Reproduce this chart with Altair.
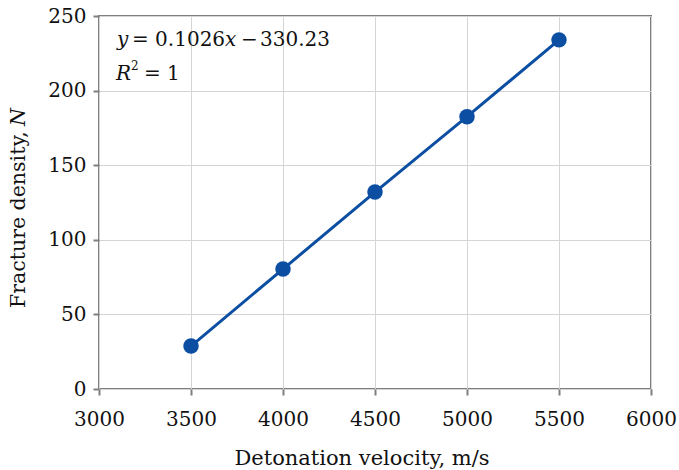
import altair as alt
import pandas as pd

velocity = [3500, 4000, 4500, 5000, 5500]
density = [28.8, 80.4, 132.0, 182.5, 234.0]
x_ticks = [3000, 3500, 4000, 4500, 5000, 5500, 6000]
y_ticks = [0, 50, 100, 150, 200, 250]

FONT = "DejaVu Serif"
BLUE = "#0B4EA2"
GRAY = "#7f7f7f"

df = pd.DataFrame({"v": velocity, "n": density})

x_enc = alt.X("v:Q", scale=alt.Scale(domain=[3000, 6000], nice=False),
              axis=alt.Axis(values=x_ticks, title=None, format="d", grid=True,
                            gridColor="#d4d4d4", domain=False, tickColor=GRAY,
                            tickWidth=2, tickSize=6, labelPadding=14, labelFlush=False,
                            labelFont=FONT, labelFontSize=20, labelColor="#111"))
y_enc = alt.Y("n:Q", scale=alt.Scale(domain=[0, 250], nice=False),
              axis=alt.Axis(values=y_ticks, title=None, format="d", grid=True,
                            gridColor="#d4d4d4", domain=False, tickColor=GRAY,
                            tickWidth=2, tickSize=6, labelPadding=7, labelFlush=False,
                            labelFont=FONT, labelFontSize=20, labelColor="#111"))

base = alt.Chart(df)
line = base.mark_line(color=BLUE, strokeWidth=3).encode(x=x_enc, y=y_enc)
pts = base.mark_circle(color=BLUE, size=240, opacity=1).encode(x="v:Q", y="n:Q")


def txt(s, x, y, size=20, italic=False, align="left", angle=0, baseline="alphabetic"):
    kw = dict(text=s, font=FONT, fontSize=size, align=align, baseline=baseline,
              color="#111")
    if italic:
        kw["fontStyle"] = "italic"
    if angle:
        kw["angle"] = angle
    return alt.Chart().mark_text(**kw).encode(x=alt.value(x), y=alt.value(y))


texts = [
    # equation line 1
    txt("y", 18, 30, italic=True),
    txt("= 0.1026", 33, 30),
    txt("x", 126, 30, italic=True),
    txt("\u2212", 142, 30),
    txt("330.23", 161, 30),
    # R^2 line
    txt("R", 17, 64, italic=True),
    txt("2", 32, 54, size=12),
    txt("= 1", 45, 64),
    # axis titles
    txt("Detonation velocity, m/s", 263, 449, size=21, align="center"),
    txt("Fracture density,", -74, 292, size=20.5, angle=270),
    txt("N", -74, 92, size=20.5, angle=270, italic=True, align="right"),
]

chart = alt.layer(line, pts, *texts).properties(
    width=552, height=373,
    padding={"left": 99, "top": 16, "right": 28, "bottom": 81},
    autosize="none",
).configure_view(stroke=GRAY, strokeWidth=2)

chart.save("out.html", embed_options={"renderer": "svg", "actions": False})
